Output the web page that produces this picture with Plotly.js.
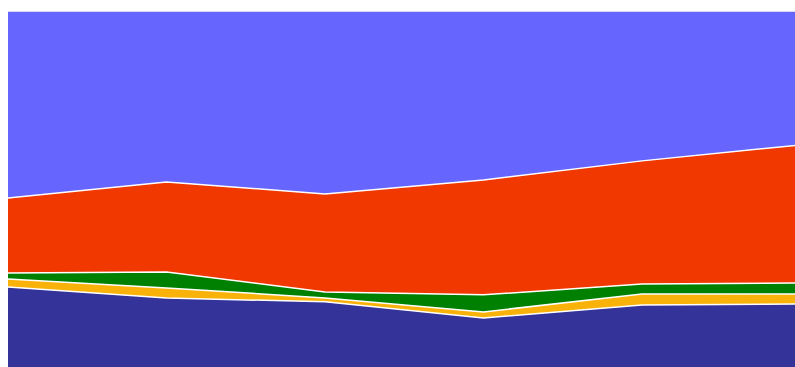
<!DOCTYPE html>
<html>
<head>
<meta charset="utf-8">
<script src="https://cdn.plot.ly/plotly-3.0.1.min.js"></script>
<style>html,body{margin:0;padding:0;background:#fff;}#chart{width:795px;height:367px;}</style>
</head>
<body>
<div id="chart"></div>
<script>
var categories = [0, 1, 2, 3, 4, 5];
var seriesNames = ["A", "B", "C", "D", "E"];
var seriesA = [22.5, 19.4, 18.3, 13.8, 17.4, 17.7];
var seriesB = [2.2, 2.8, 1.1, 1.7, 3.1, 2.8];
var seriesC = [1.7, 4.5, 1.7, 4.8, 2.8, 3.1];
var seriesD = [21.1, 25.3, 27.5, 32.3, 34.6, 38.8];
var seriesE = [52.5, 48.0, 51.4, 47.5, 42.1, 37.6];
var colors = ["#333399", "#f9b20a", "#008000", "#f03800", "#6666ff"];

var all = [seriesA, seriesB, seriesC, seriesD, seriesE];
var traces = all.map(function (vals, i) {
  return {
    x: categories,
    y: vals,
    name: seriesNames[i],
    type: "scatter",
    mode: "lines",
    stackgroup: "one",
    groupnorm: i === 0 ? "percent" : undefined,
    line: {color: "#ffffff", width: 1.5, shape: "linear"},
    fillcolor: colors[i],
    hoverinfo: "skip"
  };
});

var layout = {
  width: 795,
  height: 367,
  margin: {l: 8, r: 0, t: 11, b: 0, pad: 0},
  paper_bgcolor: "#ffffff",
  plot_bgcolor: "#ffffff",
  showlegend: false,
  xaxis: {range: [0, 4.965], visible: false, showgrid: false, zeroline: false, fixedrange: true},
  yaxis: {range: [0, 100], visible: false, showgrid: false, zeroline: false, fixedrange: true}
};

Plotly.newPlot("chart", traces, layout, {displayModeBar: false, staticPlot: true});
</script>
</body>
</html>
